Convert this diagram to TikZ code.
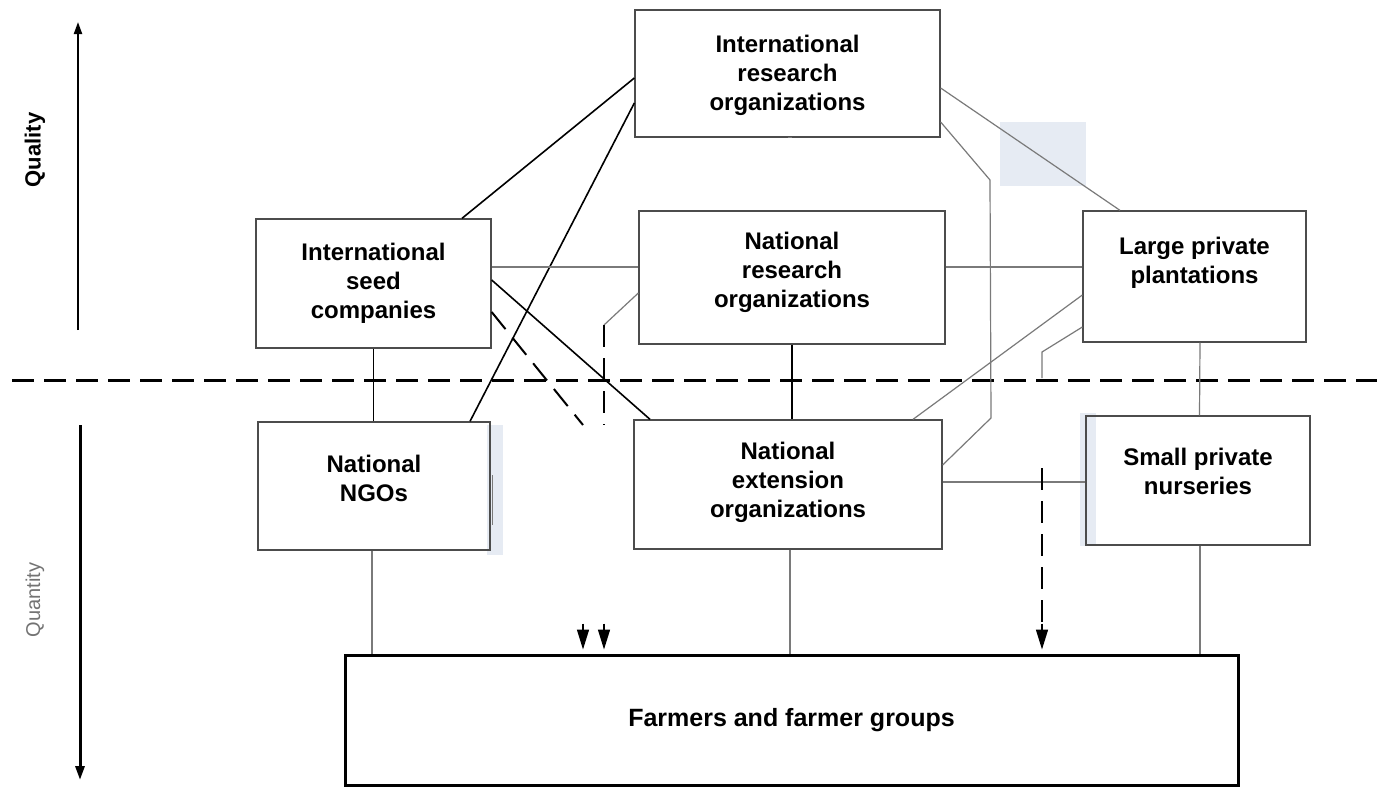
\documentclass[tikz,border=0pt]{standalone}
\usepackage{fontspec}
\setmainfont{Liberation Sans}
\usetikzlibrary{arrows.meta}
\definecolor{patch}{HTML}{E6EBF3}
\definecolor{ln}{HTML}{7A7A7A}
\begin{document}
\begin{tikzpicture}[x=1pt,y=-1pt,
  box/.style={draw=black!70, line width=1.3pt, inner sep=0pt},
  txt/.style={align=center, inner sep=0pt, font=\fontsize{24}{29}\selectfont\bfseries},
  glink/.style={draw=ln, line width=1.2pt},
  klink/.style={draw=black, line width=1.6pt},
  dlink/.style={draw=black, line width=2pt, dash pattern=on 22pt off 11pt},
  tip/.style={draw=black, line width=1.5pt, -{Triangle[width=12pt,length=20pt]}},
  axis/.style={draw=black, line width=2.5pt}
]
\useasboundingbox (0,0) rectangle (1377,790);
\fill[white] (0,0) rectangle (1377,790);

% scan patches
\fill[patch] (1000,122) rectangle (1086,186);
\fill[patch] (487,425) rectangle (503,555);
\draw[ln, line width=1pt] (492,475) -- (492,525);
\fill[patch] (1080,413) rectangle (1096,546);

% boxes
\node[box, minimum width=305pt, minimum height=127pt] (iro) at (787.5,73.5) {};
\node[box, minimum width=306pt, minimum height=133pt] (nro) at (792,277.5) {};
\node[box, minimum width=235pt, minimum height=129pt] (isc) at (373.5,283.5) {};
\node[box, minimum width=223pt, minimum height=131pt] (lpp) at (1194.5,276.5) {};
\node[box, minimum width=232pt, minimum height=128pt] (ngo) at (374,486) {};
\node[box, minimum width=308pt, minimum height=129pt] (neo) at (788,484.5) {};
\node[box, minimum width=224pt, minimum height=129pt] (spn) at (1198,480.5) {};
\node[draw=black, line width=3pt, inner sep=0pt, minimum width=893pt, minimum height=130pt,
  font=\fontsize{25}{30}\selectfont\bfseries] (farm) at (791.5,720) {Farmers and farmer groups};

% labels
\node[txt] (irot) at ([yshift=-2pt]iro.center) {International\\research\\organizations};
\node[txt] (nrot) at ([yshift=5pt]nro.center) {National\\research\\organizations};
\node[txt] (isct) at (isc.center) {International\\seed\\companies};
\node[txt] (lppt) at ([yshift=14pt]lpp.center) {Large private\\plantations};
\node[txt] (ngot) at ([yshift=8pt]ngo.center) {National\\NGOs};
\node[txt] (neot) at ([yshift=2pt]neo.center) {National\\extension\\organizations};
\node[txt] (spnt) at ([yshift=9pt]spn.center) {Small private\\nurseries};

% dividing line
\draw[line width=3pt, dash pattern=on 22pt off 10pt] (12,380) -- (1377,380);

% axis
\draw[axis, line width=2pt, -{Triangle[width=8pt,length=12pt]}] (78,330) -- (78,22);
\draw[axis, line width=3pt, -{Triangle[width=9pt,length=14pt]}] (80,425) -- (80,780);
\node[rotate=90, font=\fontsize{22}{26}\selectfont\bfseries] (qual) at (35,150) {Quality};
\node[rotate=90, text=black!55, font=\fontsize{20}{24}\selectfont] (quan) at (35,600) {Quantity};

% links from international research organizations
\draw[klink] ([xshift=88.5pt]isc.north) -- ([yshift=-4.5pt]iro.west);
\draw[klink] ([xshift=96pt]ngo.north) -- ([yshift=-29.5pt]iro.west);
\draw[glink] (iro.south) -- (nro.north |- iro.south);
\draw[glink] ([yshift=-14.5pt]iro.east) -- ([xshift=-74.5pt]lpp.north);
\coordinate (r1) at (990,180);
\coordinate (r2) at (991,418);
\draw[glink] ([yshift=-48.5pt]iro.east) -- (r1) -- (r2) -- ([yshift=19.5pt]neo.east);

% horizontal links
\draw[glink] ([yshift=16.5pt]isc.east) -- ([yshift=10.5pt]nro.west);
\draw[glink] ([yshift=10.5pt]nro.east) -- ([yshift=9.5pt]lpp.west);
\draw[glink] ([yshift=2.5pt]neo.east) -- ([yshift=-1.5pt]spn.west);

% diagonal links
\draw[klink] ([yshift=3.5pt]isc.east) -- ([xshift=-138pt]neo.north);
\draw[glink] ([yshift=-18.5pt]lpp.west) -- ([xshift=125pt]neo.north);

% vertical links
\draw[klink] (isc.south) -- (isc.south |- ngo.north);
\draw[klink] (nro.south) -- (nro.south |- neo.north);
\draw[glink] ([xshift=5.5pt]lpp.south) -- ([xshift=1.5pt]spn.north);
\draw[glink] ([xshift=-2pt]ngo.south) -- ([xshift=-2pt]ngo.south |- farm.north);
\draw[glink] ([xshift=2pt]neo.south) -- ([xshift=2pt]neo.south |- farm.north);
\draw[glink] ([xshift=2pt]spn.south) -- ([xshift=2pt]spn.south |- farm.north);

% dashed links towards farmers
\coordinate (d1) at (583,425);
\coordinate (d2a) at (604,325);
\coordinate (d2) at (604,425);
\coordinate (d3a) at (1042,352);
\coordinate (d3b) at (1042,378);
\coordinate (d3c) at (1042,468);
\draw[dlink] ([yshift=-28.5pt]isc.east) -- (d1);
\draw[glink] ([yshift=-15.5pt]nro.west) -- (d2a);
\draw[dlink] (d2a) -- (d2);
\draw[glink] ([yshift=-50.5pt]lpp.west) -- (d3a) -- (d3b);
\draw[dlink] (d3c) -- ([yshift=25pt]d3c |- farm.north);
\draw[tip] ([yshift=30pt]d1 |- farm.north) -- ([yshift=4pt]d1 |- farm.north);
\draw[tip] ([yshift=30pt]d2 |- farm.north) -- ([yshift=4pt]d2 |- farm.north);
\draw[tip] ([yshift=30pt]d3c |- farm.north) -- ([yshift=4pt]d3c |- farm.north);
\end{tikzpicture}
\end{document}
